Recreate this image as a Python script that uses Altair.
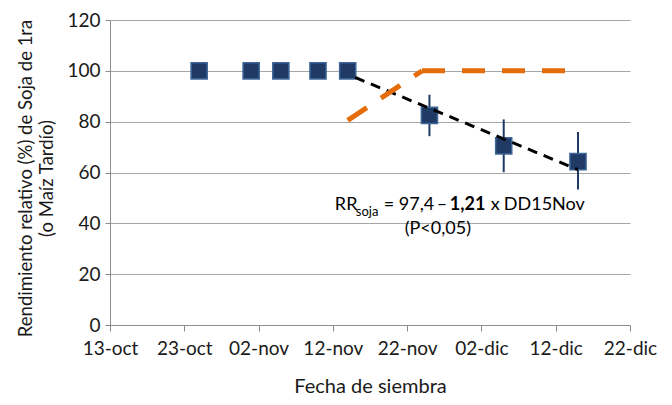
import altair as alt
import pandas as pd

# ---- data ----
fechas = ["2020-10-25", "2020-11-01", "2020-11-05", "2020-11-10", "2020-11-14",
          "2020-11-25", "2020-12-05", "2020-12-15"]
rendimiento = [100, 100, 100, 100, 100, 82.5, 70.5, 64.3]

err_fechas = ["2020-11-25", "2020-12-05", "2020-12-15"]
err_bajo = [74.3, 60.1, 53.3]
err_alto = [90.6, 80.9, 75.9]

reg_fechas = ["2020-11-15", "2020-12-15"]
reg_valores = [97.4, 61.1]

maiz_fechas = ["2020-11-14", "2020-11-24", "2020-11-24", "2020-12-14"]
maiz_valores = [80.5, 100, 100, 100]
maiz_tramo = [1, 1, 2, 2]

tick_fechas = ["2020-10-13", "2020-10-23", "2020-11-02", "2020-11-12",
               "2020-11-22", "2020-12-02", "2020-12-12", "2020-12-22"]
y_ticks = [0, 20, 40, 60, 80, 100, 120]

ann_fecha = "2020-11-12"
ann_y = 45.2

FONT = "Lato"
NAVY = "#1f3a64"
ORANGE = "#e46c0a"


def dt(s):
    t = pd.Timestamp(s)
    return alt.DateTime(year=t.year, month=t.month, date=t.day, utc=True)


df_pts = pd.DataFrame({"fecha": fechas, "rr": rendimiento})
df_err = pd.DataFrame({"fecha": err_fechas, "lo": err_bajo, "hi": err_alto})
df_reg = pd.DataFrame({"fecha": reg_fechas, "rr": reg_valores})
df_maiz = pd.DataFrame({"fecha": maiz_fechas, "rr": maiz_valores, "tramo": maiz_tramo})
df_ann = pd.DataFrame({"fecha": [ann_fecha], "rr": [ann_y]})

x_scale = alt.Scale(type="utc", domain=[dt(tick_fechas[0]), dt(tick_fechas[-1])])
y_scale = alt.Scale(domain=[0, 120])

label_expr = ("utcFormat(datum.value, '%d') + '-' + "
              "['ene','feb','mar','abr','may','jun','jul','ago','sep','oct','nov','dic']"
              "[utcmonth(datum.value)]")

x_axis = alt.Axis(values=[dt(s) for s in tick_fechas], labelExpr=label_expr,
                  title="Fecha de siembra", grid=False, tickSize=6,
                  labelPadding=8, labelOverlap=False, labelFlush=False,
                  titleY=67, titleBaseline="alphabetic", titleFontSize=20)
y_axis = alt.Axis(values=y_ticks, title=["Rendimiento relativo (%)  de Soja de 1ra", "(o Maíz Tardío)"],
                  grid=True, tickSize=5, labelPadding=5, titleFontSize=18.5,
                  titleX=-94, titleY=158, titleBaseline="top", titleLineHeight=21)

X = alt.X("fecha:T", scale=x_scale, axis=x_axis)
Y = alt.Y("rr:Q", scale=y_scale, axis=y_axis)

err = alt.Chart(df_err).mark_rule(color=NAVY, strokeWidth=2).encode(
    x=alt.X("fecha:T", scale=x_scale),
    y=alt.Y("lo:Q", scale=y_scale),
    y2="hi:Q",
)

pts = alt.Chart(df_pts).mark_point(shape="square", filled=True, size=260,
                                    color=NAVY, opacity=1,
                                    stroke="#3d6597", strokeWidth=1.5).encode(x=X, y=Y)

reg = alt.Chart(df_reg).mark_line(color="black", strokeWidth=3,
                                   strokeDash=[10, 7]).encode(
    x=alt.X("fecha:T", scale=x_scale), y=alt.Y("rr:Q", scale=y_scale))

maiz = alt.Chart(df_maiz).mark_line(color=ORANGE, strokeWidth=5,
                                     strokeDash=[23, 17]).encode(
    x=alt.X("fecha:T", scale=x_scale), y=alt.Y("rr:Q", scale=y_scale),
    detail="tramo:N")


def ann(text, dx, dy=0, size=18, weight="normal", align="left"):
    return alt.Chart(df_ann).mark_text(
        text=text, dx=dx, dy=dy, fontSize=size, fontWeight=weight, font=FONT,
        align=align, baseline="alphabetic", color="black").encode(
        x=alt.X("fecha:T", scale=x_scale), y=alt.Y("rr:Q", scale=y_scale))


texts = (ann("RR", 2) + ann("soja", 23, dy=6, size=13) + ann("=", 51)
         + ann("97,4", 66) + ann("–", 104)
         + ann("1,21", 117, weight="bold") + ann("x", 158) + ann("DD15Nov", 171)
         + ann("(P<0,05)", 105, dy=24, align="center"))

chart = alt.layer(err, pts, reg, maiz, texts).properties(
    width=520, height=305,
    padding={"left": 102, "top": 12, "right": 30, "bottom": 72},
    autosize=alt.AutoSizeParams(type="none"),
).configure_view(stroke=None).configure_axis(
    labelFont=FONT, titleFont=FONT, labelFontSize=19,
    labelColor="#1a1a1a", titleColor="#1a1a1a", titleFontWeight="normal",
    domainColor="#8c8c8c", tickColor="#8c8c8c", gridColor="#a6a6a6",
    gridWidth=1, domainWidth=1,
)

chart.save("out.html", embed_options={"renderer": "svg", "actions": False})
